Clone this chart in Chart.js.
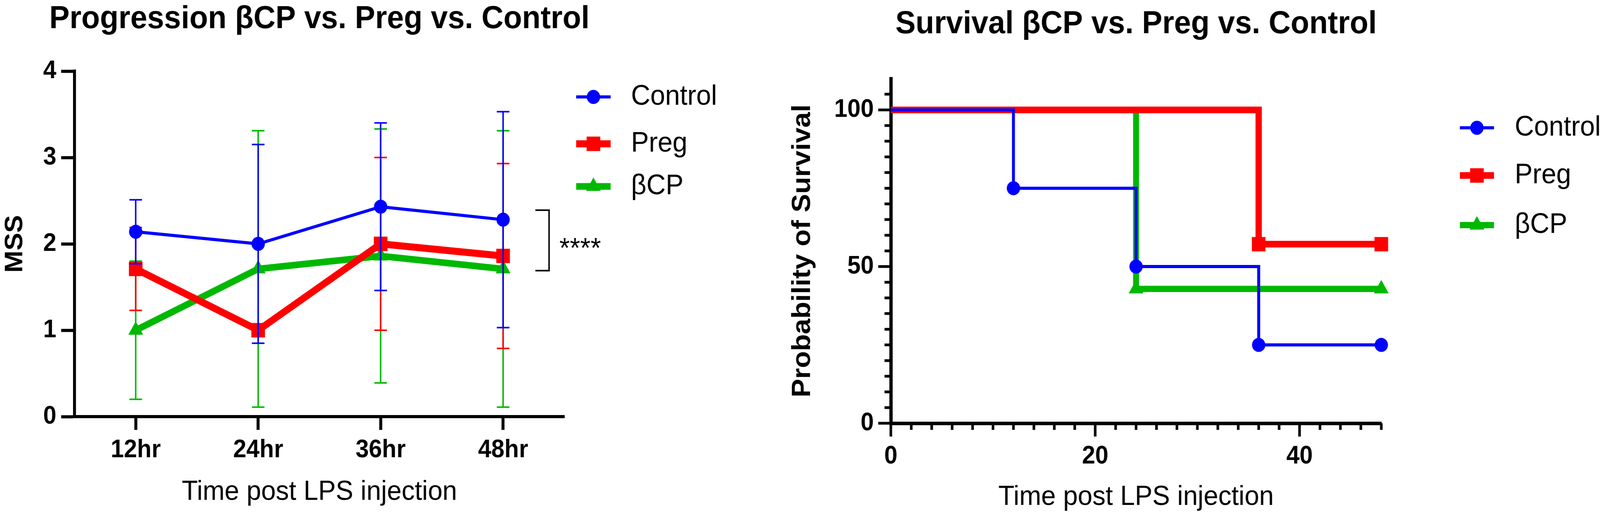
<!DOCTYPE html>
<html>
<head>
<meta charset="utf-8">
<script src="https://cdn.jsdelivr.net/npm/chart.js@4.4.0/dist/chart.umd.min.js"></script>
<style>
  html, body { margin: 0; padding: 0; background: #ffffff; overflow: hidden; }
  body { position: relative; width: 100vw; height: 100vh; }
  canvas { position: absolute; top: 0; }
</style>
</head>
<body>
<canvas id="c1" width="2100" height="1328"></canvas>
<canvas id="c2" width="2217" height="1328"></canvas>
<script>
// ---------------- DATA ----------------
const seriesNames = ['Control', 'Preg', 'βCP'];

// Left panel: MSS progression (mean and SD)
const timeLabels = ['12hr', '24hr', '36hr', '48hr'];
const controlMSS = [2.14, 2.00, 2.43, 2.28];
const controlSD  = [0.37, 1.15, 0.97, 1.25];
const pregMSS    = [1.71, 1.00, 2.00, 1.86];
const pregSD     = [0.48, 0.00, 1.00, 1.07];
const bcpMSS     = [1.00, 1.71, 1.86, 1.71];
const bcpSD      = [0.80, 1.60, 1.47, 1.60];
const sigText = '****';
const sigRange = [1.69, 2.39];   // bracket span on the MSS axis

// Right panel: Kaplan-Meier survival
const controlSurvTime = [0, 12, 24, 36, 48];
const controlSurv     = [100, 75, 50, 25, 25];
const pregSurvTime    = [0, 36, 48];
const pregSurv        = [100, 57.14, 57.14];
const bcpSurvTime     = [0, 24, 48];
const bcpSurv         = [100, 42.86, 42.86];
const survYLabels = [0, 50, 100];
const survXLabels = [0, 20, 40];

const leftTitle  = 'Progression βCP vs. Preg vs. Control';
const rightTitle = 'Survival βCP vs. Preg vs. Control';
const xTitle = 'Time post LPS injection';

// ---------------- STYLE ----------------
const FONT = "'Liberation Sans', Arial, Helvetica, sans-serif";
const BLUE = '#0000FF', RED = '#FF0000', GREEN = '#00B800';

// Fit the 4317x1328 design into the actual viewport
const DESIGN_W = 4317, DESIGN_H = 1328;
const SX = (window.innerWidth / DESIGN_W) || 1;
const SY = (window.innerHeight / DESIGN_H) || 1;
function place(id, left, w, h) {
  const c = document.getElementById(id);
  c.style.left = (left * SX) + 'px';
  c.style.width = (w * SX) + 'px';
  c.style.height = (h * SY) + 'px';
}
place('c1', 0, 2100, 1328);
place('c2', 2100, 2217, 1328);

// ---------------- PLUGINS ----------------
const panelTitle = {
  id: 'panelTitle',
  afterDraw(chart, args, o) {
    const { ctx, chartArea } = chart;
    ctx.save();
    ctx.font = `bold ${o.size}px ${FONT}`;
    ctx.fillStyle = '#000';
    ctx.textAlign = 'center';
    ctx.textBaseline = 'alphabetic';
    ctx.fillText(o.text, (chartArea.left + chartArea.right) / 2, o.baseline);
    ctx.restore();
  }
};

function drawMarker(ctx, style, radius, x, y) {
  if (Chart.helpers && Chart.helpers.drawPoint) {
    Chart.helpers.drawPoint(ctx, { pointStyle: style, radius: radius, rotation: 0, borderWidth: 0 }, x, y);
    return;
  }
  ctx.beginPath();
  if (style === 'rect') {
    const h = radius * Math.SQRT1_2;
    ctx.rect(x - h, y - h, 2 * h, 2 * h);
  } else if (style === 'triangle') {
    ctx.moveTo(x, y - radius);
    ctx.lineTo(x + radius * 0.866, y + radius * 0.5);
    ctx.lineTo(x - radius * 0.866, y + radius * 0.5);
    ctx.closePath();
  } else {
    ctx.arc(x, y, radius, 0, Math.PI * 2);
  }
  ctx.fill();
}

const lineLegend = {
  id: 'lineLegend',
  afterDraw(chart, args, o) {
    const ctx = chart.ctx;
    chart.data.datasets.forEach((ds, i) => {
      const y = o.rows[i];
      ctx.save();
      ctx.strokeStyle = ds.borderColor;
      ctx.lineWidth = ds.borderWidth;
      ctx.lineCap = 'butt';
      ctx.beginPath();
      ctx.moveTo(o.x1, y);
      ctx.lineTo(o.x2, y);
      ctx.stroke();
      ctx.fillStyle = ds.borderColor;
      drawMarker(ctx, ds.pointStyle, o.radius[i], (o.x1 + o.x2) / 2, y);
      ctx.fillStyle = '#000';
      ctx.font = `${o.size}px ${FONT}`;
      ctx.textAlign = 'left';
      ctx.textBaseline = 'middle';
      ctx.fillText(ds.label, o.xText, y);
      ctx.restore();
    });
  }
};

const errorBars = {
  id: 'errorBars',
  beforeDatasetDraw(chart, args, o) {
    const sd = o.sd[args.index];
    if (!sd) return;
    const ds = chart.data.datasets[args.index];
    const ys = chart.scales.y;
    const ctx = chart.ctx;
    ctx.save();
    ctx.strokeStyle = ds.borderColor;
    ctx.lineWidth = o.width;
    ctx.lineCap = 'butt';
    args.meta.data.forEach((pt, j) => {
      const m = ds.data[j], s = sd[j];
      if (!s) return;
      const top = ys.getPixelForValue(m + s);
      const bot = ys.getPixelForValue(m - s);
      ctx.beginPath();
      ctx.moveTo(pt.x, top); ctx.lineTo(pt.x, bot);
      ctx.moveTo(pt.x - o.cap, top); ctx.lineTo(pt.x + o.cap, top);
      ctx.moveTo(pt.x - o.cap, bot); ctx.lineTo(pt.x + o.cap, bot);
      ctx.stroke();
    });
    ctx.restore();
  }
};

const sigBracket = {
  id: 'sigBracket',
  afterDatasetsDraw(chart, args, o) {
    const ctx = chart.ctx;
    const xs = chart.scales.x, ys = chart.scales.y;
    const xLast = xs.getPixelForValue(timeLabels.length - 1);
    const xv = xLast + o.dx, xa = xLast + o.armDx;
    const yt = ys.getPixelForValue(sigRange[1]);
    const yb = ys.getPixelForValue(sigRange[0]);
    ctx.save();
    ctx.strokeStyle = '#000';
    ctx.lineWidth = o.width;
    ctx.lineJoin = 'miter';
    ctx.beginPath();
    ctx.moveTo(xa, yt); ctx.lineTo(xv, yt); ctx.lineTo(xv, yb); ctx.lineTo(xa, yb);
    ctx.stroke();
    ctx.font = `${o.size}px ${FONT}`;
    ctx.fillStyle = '#000';
    ctx.textAlign = 'left';
    ctx.textBaseline = 'alphabetic';
    ctx.fillText(sigText, xLast + o.textDx, (yt + yb) / 2 + o.textDy);
    ctx.restore();
  }
};

const survTicks = {
  id: 'survTicks',
  afterDraw(chart, args, o) {
    const { ctx, chartArea } = chart;
    const xs = chart.scales.x, ys = chart.scales.y;
    ctx.save();
    ctx.strokeStyle = '#000';
    ctx.lineWidth = o.width;
    ctx.lineCap = 'butt';
    ctx.beginPath();
    ys.ticks.forEach(t => {
      if (t.value > o.yTickMax) return;
      const p = ys.getPixelForValue(t.value);
      const len = survYLabels.includes(t.value) ? o.major : o.minor;
      ctx.moveTo(chartArea.left, p); ctx.lineTo(chartArea.left - len, p);
    });
    xs.ticks.forEach(t => {
      const p = xs.getPixelForValue(t.value);
      const len = survXLabels.includes(t.value) ? o.major : o.minor;
      ctx.moveTo(p, chartArea.bottom); ctx.lineTo(p, chartArea.bottom + len);
    });
    ctx.stroke();
    ctx.restore();
  }
};

// ---------------- LEFT CHART ----------------
function lineSet(label, data, color, width, style, radius) {
  return {
    label, data,
    borderColor: color, backgroundColor: color,
    borderWidth: width, tension: 0, fill: false,
    borderCapStyle: 'butt', borderJoinStyle: 'miter',
    pointStyle: style, pointRadius: radius,
    pointBackgroundColor: color, pointBorderColor: color, pointBorderWidth: 0,
    pointHoverRadius: radius, clip: false
  };
}

new Chart(document.getElementById('c1'), {
  type: 'line',
  data: {
    labels: timeLabels,
    datasets: [
      lineSet(seriesNames[0], controlMSS, BLUE, 8, 'circle', 18),
      lineSet(seriesNames[1], pregMSS, RED, 18, 'rect', 26),
      lineSet(seriesNames[2], bcpMSS, GREEN, 17, 'triangle', 23)
    ]
  },
  options: {
    responsive: false, animation: false, devicePixelRatio: 1,
    layout: { padding: { left: 0, right: 577, top: 182, bottom: 0 } },
    events: [],
    plugins: {
      legend: { display: false }, tooltip: { enabled: false },
      panelTitle: { text: leftTitle, size: 82, baseline: 72 },
      lineLegend: { x1: 1555, x2: 1648, xText: 1703, rows: [248, 368, 477], radius: [18, 26, 23], size: 72 },
      errorBars: { sd: [controlSD, pregSD, bcpSD], width: 4, cap: 17 },
      sigBracket: { dx: 124, armDx: 87, width: 4, size: 72, textDx: 152, textDy: 44 }
    },
    scales: {
      x: {
        type: 'category', offset: true,
        grid: { display: true, drawOnChartArea: false, drawTicks: true, tickLength: 34, tickWidth: 8, tickColor: '#000', offset: false },
        border: { display: true, color: '#000', width: 8 },
        ticks: { color: '#000', font: { family: FONT, size: 64, weight: 'bold' }, padding: 14, maxRotation: 0, minRotation: 0, autoSkip: false },
        title: { display: true, text: xTitle, color: '#000', font: { family: FONT, size: 71 }, padding: { top: 0, bottom: 26 } },
        afterFit: s => { s.height = 262; }
      },
      y: {
        min: 0, max: 4,
        grid: { display: true, drawOnChartArea: false, drawTicks: true, tickLength: 36, tickWidth: 8, tickColor: '#000' },
        border: { display: true, color: '#000', width: 8 },
        ticks: { stepSize: 1, color: '#000', font: { family: FONT, size: 64, weight: 'bold' }, padding: 13 },
        title: { display: true, text: 'MSS', color: '#000', font: { family: FONT, size: 68, weight: 'bold' }, padding: { top: 0, bottom: 0 } },
        afterFit: s => { s.width = 201; }
      }
    }
  },
  plugins: [errorBars, sigBracket, lineLegend, panelTitle]
});

// ---------------- RIGHT CHART ----------------
function toXY(xs, ys) { return xs.map((x, i) => ({ x: x, y: ys[i] })); }
function stepSet(label, xs, ys, color, width, style, radius) {
  const radii = xs.map((x, i) => (i === 0 ? 0 : radius));
  return {
    label, data: toXY(xs, ys), stepped: true,
    borderColor: color, backgroundColor: color,
    borderWidth: width, fill: false,
    borderCapStyle: 'butt', borderJoinStyle: 'miter',
    pointStyle: style, pointRadius: radii, pointHoverRadius: radii,
    pointBackgroundColor: color, pointBorderColor: color, pointBorderWidth: 0,
    clip: false
  };
}

new Chart(document.getElementById('c2'), {
  type: 'line',
  data: {
    datasets: [
      stepSet(seriesNames[0], controlSurvTime, controlSurv, BLUE, 8, 'circle', 18),
      stepSet(seriesNames[1], pregSurvTime, pregSurv, RED, 17, 'rect', 26),
      stepSet(seriesNames[2], bcpSurvTime, bcpSurv, GREEN, 16, 'triangle', 23)
    ]
  },
  options: {
    responsive: false, animation: false, devicePixelRatio: 1,
    layout: { padding: { left: 0, right: 590, top: 201, bottom: 0 } },
    events: [],
    plugins: {
      legend: { display: false }, tooltip: { enabled: false },
      panelTitle: { text: rightTitle, size: 82, baseline: 85 },
      lineLegend: { x1: 1839, x2: 1931, xText: 1987, rows: [327, 449, 576], radius: [18, 26, 23], size: 72 },
      survTicks: { width: 7, major: 34, minor: 17, yTickMax: 105 }
    },
    scales: {
      x: {
        type: 'linear', min: 0, max: 48,
        grid: { display: true, drawOnChartArea: false, drawTicks: false },
        border: { display: true, color: '#000', width: 9 },
        ticks: {
          stepSize: 2, autoSkip: false, maxRotation: 0, minRotation: 0,
          color: '#000', font: { family: FONT, size: 64, weight: 'bold' }, padding: 47,
          callback: v => (survXLabels.includes(v) ? String(v) : '')
        },
        title: { display: true, text: xTitle, color: '#000', font: { family: FONT, size: 71 }, padding: { top: 0, bottom: 13 } },
        afterFit: s => { s.height = 245; }
      },
      y: {
        min: 0, max: 110,
        grid: { display: true, drawOnChartArea: false, drawTicks: false },
        border: { display: true, color: '#000', width: 9 },
        ticks: {
          stepSize: 5, autoSkip: false,
          color: '#000', font: { family: FONT, size: 64, weight: 'bold' }, padding: 46,
          callback: v => (survYLabels.includes(v) ? String(v) : '')
        },
        title: { display: true, text: 'Probability of Survival', color: '#000', font: { family: FONT, size: 71, weight: 'bold' }, padding: { top: 24, bottom: 0 } },
        afterFit: s => { s.width = 304; }
      }
    }
  },
  plugins: [survTicks, lineLegend, panelTitle]
});
</script>
</body>
</html>
